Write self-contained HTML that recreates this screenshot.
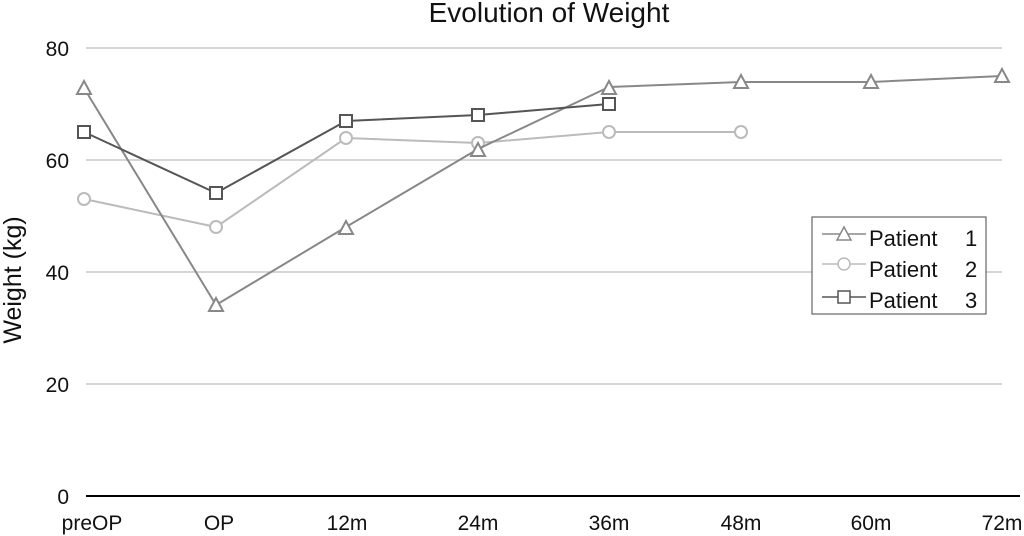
<!DOCTYPE html>
<html><head><meta charset="utf-8"><style>
html,body{margin:0;padding:0;background:#fff;}
svg{display:block;font-family:"Liberation Sans",Arial,sans-serif;}
</style></head><body>
<svg width="1024" height="536" viewBox="0 0 1024 536">
<text x="549" y="22" font-size="28" text-anchor="middle" fill="#111">Evolution of Weight</text>
<g stroke="#c8c8c8" stroke-width="1.5">
<line x1="86" y1="48" x2="1002" y2="48"/>
<line x1="86" y1="160" x2="1002" y2="160"/>
<line x1="86" y1="272" x2="1002" y2="272"/>
<line x1="86" y1="384" x2="1002" y2="384"/>
</g>
<line x1="86" y1="496" x2="1020" y2="496" stroke="#000" stroke-width="2"/>
<g font-size="21" fill="#111" text-anchor="end">
<text x="69" y="56">80</text><text x="69" y="168">60</text><text x="69" y="280">40</text><text x="69" y="392">20</text><text x="69" y="504">0</text>
</g>
<text transform="translate(21,280) rotate(-90)" font-size="25" text-anchor="middle" fill="#111">Weight (kg)</text>
<g font-size="21" fill="#111" text-anchor="middle">
<text x="92" y="530">preOP</text><text x="219" y="530">OP</text><text x="347" y="530">12m</text><text x="478" y="530">24m</text><text x="609" y="530">36m</text><text x="741" y="530">48m</text><text x="871" y="530">60m</text><text x="1002" y="530">72m</text>
</g>
<g stroke="#bbb" stroke-width="2" fill="#fff">
<polyline fill="none" points="84,199 216,227 346,138 478,143 609,132 741,132"/>
<circle cx="84" cy="199" r="6"/><circle cx="216" cy="227" r="6"/><circle cx="346" cy="138" r="6"/><circle cx="478" cy="143" r="6"/><circle cx="609" cy="132" r="6"/><circle cx="741" cy="132" r="6"/>
</g>
<g stroke="#888" stroke-width="2" fill="#fff">
<polyline fill="none" points="84,88 216,305 346,227 478,149 609,87 741,82 871,82 1002,76"/>
<polygon points="84,81 77,94 91,94"/><polygon points="216,298 209,311 223,311"/><polygon points="346,221 339,234 353,234"/><polygon points="478,143 471,156 485,156"/><polygon points="609,81 602,94 616,94"/><polygon points="741,75 734,88 748,88"/><polygon points="871,75 864,88 878,88"/><polygon points="1002,69 995,82 1009,82"/>
</g>
<g stroke="#555" stroke-width="2" fill="#fff">
<polyline fill="none" points="84,132 216,193 346,121 478,115 609,104"/>
<rect x="78" y="126" width="12" height="12"/><rect x="210" y="187" width="12" height="12"/><rect x="340" y="115" width="12" height="12"/><rect x="472" y="109" width="12" height="12"/><rect x="603" y="98" width="12" height="12"/>
</g>
<rect x="812" y="217" width="174" height="97" fill="#fff" stroke="#666" stroke-width="1.2"/>
<g font-size="22" fill="#111">
<text x="869" y="246">Patient</text><text x="965" y="246">1</text>
<text x="869" y="277">Patient</text><text x="965" y="277">2</text>
<text x="869" y="308">Patient</text><text x="965" y="308">3</text>
</g>
<g stroke="#888" stroke-width="1.5" fill="#fff"><line x1="822" y1="234" x2="866" y2="234"/><polygon points="844,227 837,240 851,240"/></g>
<g stroke="#bbb" stroke-width="1.5" fill="#fff"><line x1="822" y1="264" x2="866" y2="264"/><circle cx="844" cy="264" r="6"/></g>
<g stroke="#555" stroke-width="1.5" fill="#fff"><line x1="822" y1="297" x2="866" y2="297"/><rect x="838" y="291" width="12" height="12"/></g>
</svg>
</body></html>
